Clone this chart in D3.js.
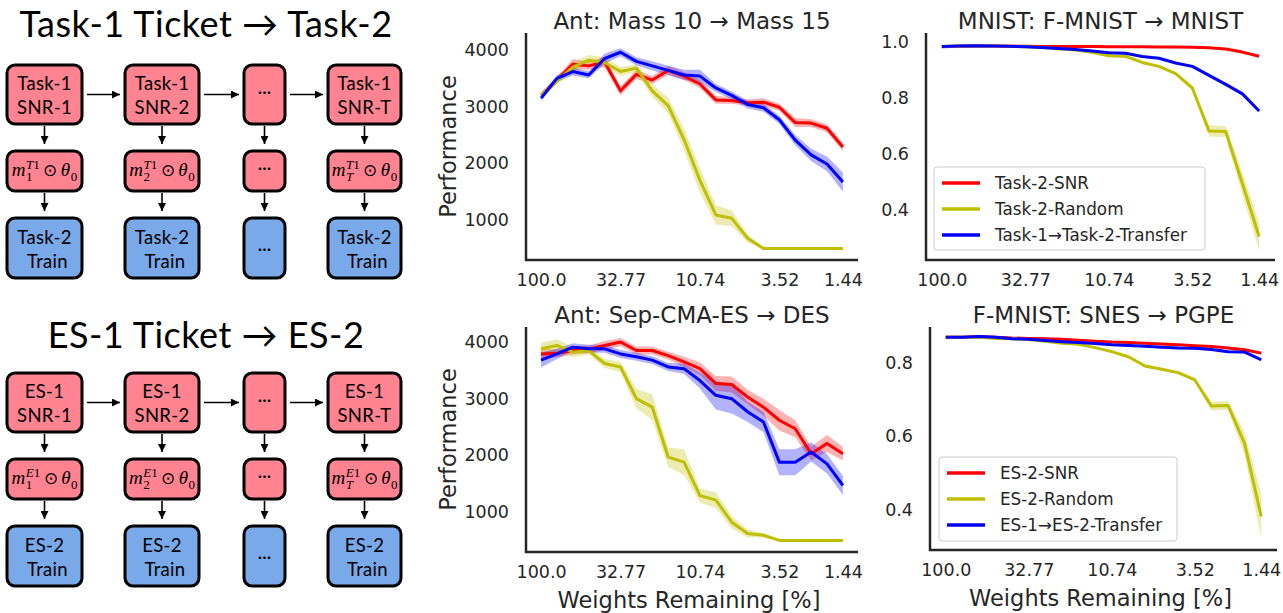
<!DOCTYPE html>
<html>
<head>
<meta charset="utf-8">
<script src="https://cdn.jsdelivr.net/npm/d3@7"></script>
<style>
  body { margin: 0; background: #fff; }
  svg { display: block; }
</style>
</head>
<body>
<svg id="fig" width="1283" height="613"></svg>
<script>
const d = document;

/* Datos: iteraciones de poda 0..19 */
const iters = d3.range(20);
const xTickIdx = [0, 5, 10, 15, 19];
const xTickLabels = ["100.0", "32.77", "10.74", "3.52", "1.44"];

/* Ant: Mass 10 -> Mass 15 */
const antMassSNR = [3200, 3470, 3750, 3720, 3790, 3280, 3570, 3470, 3640, 3540, 3400, 3120, 3110, 3070, 3080, 2990, 2720, 2710, 2620, 2290];
const antMassSNRErr = [50, 60, 90, 70, 90, 80, 80, 70, 80, 70, 70, 70, 60, 60, 70, 60, 80, 70, 70, 70];
const antMassRandom = [3200, 3450, 3700, 3820, 3780, 3620, 3680, 3280, 3020, 2420, 1700, 1090, 1030, 680, 500, 500, 500, 500, 500, 500];
const antMassRandomErr = [50, 60, 90, 90, 90, 80, 70, 110, 140, 190, 220, 170, 140, 70, 20, 0, 0, 0, 0, 0];
const antMassTransfer = [3150, 3500, 3620, 3560, 3850, 3960, 3800, 3720, 3640, 3560, 3540, 3330, 3200, 3040, 2980, 2770, 2410, 2150, 1990, 1670];
const antMassTransferErr = [50, 60, 70, 60, 90, 70, 70, 80, 80, 90, 110, 70, 70, 70, 70, 70, 90, 110, 130, 170];

/* MNIST: F-MNIST -> MNIST */
const mnistSNR = [0.982, 0.984, 0.985, 0.985, 0.984, 0.984, 0.983, 0.983, 0.983, 0.983, 0.982, 0.982, 0.982, 0.981, 0.981, 0.980, 0.978, 0.974, 0.963, 0.948];
const mnistSNRErr = [0.002, 0.002, 0.002, 0.002, 0.002, 0.002, 0.002, 0.002, 0.002, 0.002, 0.002, 0.002, 0.002, 0.002, 0.002, 0.002, 0.002, 0.002, 0.003, 0.003];
const mnistRandom = [0.983, 0.985, 0.986, 0.985, 0.984, 0.982, 0.979, 0.975, 0.970, 0.962, 0.950, 0.948, 0.926, 0.912, 0.886, 0.835, 0.682, 0.680, 0.494, 0.306];
const mnistRandomErr = [0.002, 0.002, 0.002, 0.002, 0.002, 0.002, 0.003, 0.003, 0.003, 0.004, 0.005, 0.005, 0.005, 0.005, 0.006, 0.008, 0.02, 0.02, 0.04, 0.05];
const mnistTransfer = [0.983, 0.985, 0.986, 0.985, 0.984, 0.982, 0.979, 0.976, 0.972, 0.967, 0.961, 0.959, 0.947, 0.941, 0.924, 0.912, 0.880, 0.848, 0.814, 0.753];
const mnistTransferErr = [0.002, 0.002, 0.002, 0.002, 0.002, 0.002, 0.002, 0.002, 0.002, 0.003, 0.003, 0.003, 0.003, 0.003, 0.004, 0.004, 0.004, 0.005, 0.005, 0.006];

/* Ant: Sep-CMA-ES -> DES */
const desSNR = [3790, 3800, 3850, 3870, 3940, 4000, 3850, 3850, 3760, 3650, 3530, 3270, 3250, 3030, 2850, 2620, 2470, 2030, 2210, 2030];
const desSNRErr = [90, 70, 70, 70, 80, 70, 70, 70, 70, 90, 110, 130, 140, 130, 150, 180, 150, 120, 150, 120];
const desRandom = [3880, 3940, 3820, 3850, 3620, 3560, 3000, 2850, 1970, 1880, 1290, 1210, 820, 620, 590, 500, 500, 500, 500, 500];
const desRandomErr = [110, 110, 90, 70, 80, 90, 170, 230, 170, 230, 120, 140, 110, 70, 40, 0, 0, 0, 0, 0];
const desTransfer = [3680, 3790, 3910, 3880, 3880, 3790, 3740, 3680, 3560, 3530, 3320, 3060, 3000, 2770, 2590, 1880, 1880, 2060, 1850, 1470];
const desTransferErr = [130, 90, 70, 70, 70, 70, 70, 70, 70, 90, 140, 250, 260, 180, 180, 230, 230, 170, 170, 170];

/* F-MNIST: SNES -> PGPE */
const pgpeSNR = [0.869, 0.869, 0.871, 0.869, 0.867, 0.866, 0.865, 0.864, 0.861, 0.858, 0.856, 0.855, 0.853, 0.851, 0.849, 0.846, 0.844, 0.840, 0.835, 0.826];
const pgpeSNRErr = [0.002, 0.002, 0.002, 0.002, 0.002, 0.002, 0.002, 0.002, 0.002, 0.002, 0.002, 0.002, 0.002, 0.002, 0.002, 0.002, 0.002, 0.003, 0.003, 0.004];
const pgpeRandom = [0.869, 0.869, 0.869, 0.866, 0.865, 0.863, 0.858, 0.853, 0.850, 0.841, 0.830, 0.816, 0.791, 0.782, 0.773, 0.753, 0.682, 0.684, 0.580, 0.382];
const pgpeRandomErr = [0.002, 0.002, 0.002, 0.002, 0.002, 0.002, 0.002, 0.002, 0.003, 0.003, 0.003, 0.003, 0.004, 0.004, 0.004, 0.005, 0.012, 0.012, 0.03, 0.06];
const pgpeTransfer = [0.869, 0.869, 0.871, 0.869, 0.865, 0.864, 0.860, 0.857, 0.855, 0.852, 0.849, 0.847, 0.845, 0.842, 0.840, 0.839, 0.836, 0.830, 0.829, 0.808];
const pgpeTransferErr = [0.002, 0.002, 0.002, 0.002, 0.002, 0.002, 0.002, 0.002, 0.002, 0.002, 0.002, 0.002, 0.002, 0.002, 0.003, 0.003, 0.003, 0.003, 0.004, 0.005];

/* Diagramas */
const taskLegend = ["Task-2-SNR", "Task-2-Random", "Task-1\u2192Task-2-Transfer"];
const esLegend = ["ES-2-SNR", "ES-2-Random", "ES-1\u2192ES-2-Transfer"];
const taskColumns = [
  { top: ["Task-1", "SNR-1"], sub: "1", bottom: ["Task-2", "Train"] },
  { top: ["Task-1", "SNR-2"], sub: "2", bottom: ["Task-2", "Train"] },
  { top: null, sub: null, bottom: null },
  { top: ["Task-1", "SNR-T"], sub: "T", bottom: ["Task-2", "Train"] },
];
const esColumns = [
  { top: ["ES-1", "SNR-1"], sub: "1", bottom: ["ES-2", "Train"] },
  { top: ["ES-1", "SNR-2"], sub: "2", bottom: ["ES-2", "Train"] },
  { top: null, sub: null, bottom: null },
  { top: ["ES-1", "SNR-T"], sub: "T", bottom: ["ES-2", "Train"] },
];

const RED = "#ff0000", OLIVE = "#bfbf00", BLUE = "#0000ff";
const TXT = "#262626";
const FONT = "DejaVu Sans";

const svg = d3.select("#fig");
svg.append("rect").attr("width", 1283).attr("height", 613).attr("fill", "#fff");

const defs = svg.append("defs");
defs.append("marker")
  .attr("id", "head")
  .attr("viewBox", "0 0 10 10")
  .attr("refX", 10).attr("refY", 5)
  .attr("markerWidth", 8).attr("markerHeight", 8)
  .attr("markerUnits", "userSpaceOnUse")
  .attr("orient", "auto")
  .append("path").attr("d", "M0,0L10,5L0,10Z").attr("fill", "#000");

/* ---------- paneles de graficas ---------- */
function panel(cfg) {
  const x = d3.scaleLinear().domain([-0.95, 19.95]).range([cfg.left, cfg.right]);
  const y = d3.scaleLinear().domain(cfg.ydom).range([cfg.bottom, cfg.top]);
  const g = svg.append("g");

  const area = d3.area()
    .x((v, i) => x(i))
    .y0((v) => y(v[0] - v[1]))
    .y1((v) => y(v[0] + v[1]));
  const line = d3.line().x((v, i) => x(i)).y((v) => y(v));

  cfg.series.forEach((s) => {
    g.append("path")
      .datum(s.values.map((v, i) => [v, s.err[i]]))
      .attr("d", area)
      .attr("fill", s.color)
      .attr("fill-opacity", 0.3);
  });
  cfg.series.forEach((s) => {
    g.append("path")
      .datum(s.values)
      .attr("d", line)
      .attr("fill", "none")
      .attr("stroke", s.color)
      .attr("stroke-width", 3)
      .attr("stroke-linejoin", "round");
  });

  // ejes (solo lineas, sin marcas)
  const xAxis = g.append("g").attr("transform", `translate(0,${cfg.bottom})`)
    .call(d3.axisBottom(x).tickValues(xTickIdx).tickSize(0).tickPadding(14)
      .tickFormat((v, i) => xTickLabels[i]));
  const yAxis = g.append("g").attr("transform", `translate(${cfg.left},0)`)
    .call(d3.axisLeft(y).tickValues(cfg.yticks).tickSize(0).tickPadding(17)
      .tickFormat(cfg.yfmt));
  [xAxis, yAxis].forEach((a) => {
    a.select(".domain").remove();
    a.selectAll("text").attr("font-family", FONT).attr("font-size", 17.5).attr("fill", TXT);
  });
  g.append("path")
    .attr("d", `M${cfg.left},${cfg.top}V${cfg.bottom}H${cfg.right}`)
    .attr("fill", "none").attr("stroke", TXT).attr("stroke-width", 2.5);

  g.append("text")
    .attr("x", (cfg.left + cfg.right) / 2).attr("y", cfg.top - 4)
    .attr("text-anchor", "middle")
    .attr("font-family", FONT).attr("font-size", 23).attr("fill", TXT)
    .text(cfg.title);

  if (cfg.ylabel) {
    g.append("text")
      .attr("transform", `translate(${cfg.left - 70},${(cfg.top + cfg.bottom) / 2}) rotate(-90)`)
      .attr("text-anchor", "middle")
      .attr("font-family", FONT).attr("font-size", 22.5).attr("fill", TXT)
      .text(cfg.ylabel);
  }
  if (cfg.xlabel) {
    g.append("text")
      .attr("x", (cfg.left + cfg.right) / 2 - 3).attr("y", cfg.bottom + 56)
      .attr("text-anchor", "middle")
      .attr("font-family", FONT).attr("font-size", 22.5).attr("fill", TXT)
      .text(cfg.xlabel);
  }
  if (cfg.legend) {
    const L = cfg.legend;
    const lg = g.append("g");
    lg.append("rect")
      .attr("x", L.x).attr("y", L.y).attr("width", L.w).attr("height", L.h)
      .attr("rx", 3).attr("fill", "#fff").attr("stroke", "#cccccc").attr("stroke-width", 1);
    cfg.series.forEach((s, i) => {
      const yy = L.y + 16 + i * 26;
      lg.append("line")
        .attr("x1", L.x + 8).attr("x2", L.x + 46).attr("y1", yy).attr("y2", yy)
        .attr("stroke", s.color).attr("stroke-width", 3.5);
      lg.append("text")
        .attr("x", L.x + 61).attr("y", yy).attr("dy", "0.36em")
        .attr("font-family", FONT).attr("font-size", 16.8).attr("fill", TXT)
        .text(L.labels[i]);
    });
  }
}

const fmt1 = d3.format(".1f");

panel({
  left: 526, right: 858, top: 33, bottom: 260, ydom: [295, 4300],
  yticks: [1000, 2000, 3000, 4000], yfmt: (v) => v,
  title: "Ant: Mass 10 \u2192 Mass 15", ylabel: "Performance",
  series: [
    { values: antMassSNR, err: antMassSNRErr, color: RED },
    { values: antMassRandom, err: antMassRandomErr, color: OLIVE },
    { values: antMassTransfer, err: antMassTransferErr, color: BLUE },
  ],
});

panel({
  left: 926, right: 1275, top: 33, bottom: 260, ydom: [0.222, 1.031],
  yticks: [0.4, 0.6, 0.8, 1.0], yfmt: fmt1,
  title: "MNIST: F-MNIST \u2192 MNIST",
  legend: { x: 934, y: 167, w: 271, h: 83, labels: taskLegend },
  series: [
    { values: mnistSNR, err: mnistSNRErr, color: RED },
    { values: mnistRandom, err: mnistRandomErr, color: OLIVE },
    { values: mnistTransfer, err: mnistTransferErr, color: BLUE },
  ],
});

panel({
  left: 526, right: 858, top: 327, bottom: 552, ydom: [295, 4265],
  yticks: [1000, 2000, 3000, 4000], yfmt: (v) => v,
  title: "Ant: Sep-CMA-ES \u2192 DES", ylabel: "Performance", xlabel: "Weights Remaining [%]",
  series: [
    { values: desSNR, err: desSNRErr, color: RED },
    { values: desRandom, err: desRandomErr, color: OLIVE },
    { values: desTransfer, err: desTransferErr, color: BLUE },
  ],
});

panel({
  left: 930, right: 1277, top: 327, bottom: 550, ydom: [0.291, 0.897],
  yticks: [0.4, 0.6, 0.8], yfmt: fmt1,
  title: "F-MNIST: SNES \u2192 PGPE", xlabel: "Weights Remaining [%]",
  legend: { x: 939, y: 457, w: 238, h: 84, labels: esLegend },
  series: [
    { values: pgpeSNR, err: pgpeSNRErr, color: RED },
    { values: pgpeRandom, err: pgpeRandomErr, color: OLIVE },
    { values: pgpeTransfer, err: pgpeTransferErr, color: BLUE },
  ],
});

/* ---------- diagramas de la izquierda ---------- */
const PINK = "#ff8391", LBLUE = "#79a9e8";
const DFONT = "Lato";
const colX = [7, 125, 244, 328];
const colW = [75, 74, 41, 73];
const rowOff = [0, 86, 153];
const rowH = [59, 40, 60];

function mathLabel(g, cx, cy, sub, supLetter) {
  const t = g.append("g").attr("font-family", "Liberation Serif").attr("fill", "#000");
  const m = t.append("text").attr("font-size", 19).attr("font-style", "italic").text("m");
  let x = m.node().getComputedTextLength() + 0.5;
  const sup = t.append("text").attr("x", x).attr("y", -7.5).attr("font-size", 13);
  sup.append("tspan").attr("font-style", "italic").text(supLetter);
  sup.append("tspan").text("1");
  const sb = t.append("text").attr("x", x).attr("y", 5).attr("font-size", 13)
    .attr("font-style", sub === "T" ? "italic" : "normal").text(sub);
  x += Math.max(sup.node().getComputedTextLength(), sb.node().getComputedTextLength()) + 3.5;
  const od = t.append("text").attr("x", x).attr("y", 0).attr("font-size", 17).text("\u2299");
  x += od.node().getComputedTextLength() + 3.5;
  const th = t.append("text").attr("x", x).attr("font-size", 19).attr("font-style", "italic").text("\u03b8");
  x += th.node().getComputedTextLength() + 0.5;
  const z = t.append("text").attr("x", x).attr("y", 5).attr("font-size", 13).text("0");
  x += z.node().getComputedTextLength();
  t.attr("transform", `translate(${cx - x / 2},${cy + 5})`);
}

function diagram(y0, titleY, title, columns, supLetter) {
  const g = svg.append("g");
  g.append("text")
    .attr("x", 206).attr("y", titleY)
    .attr("text-anchor", "middle")
    .attr("font-family", DFONT).attr("font-size", 36).attr("letter-spacing", 0.5).attr("fill", "#000")
    .text(title);

  columns.forEach((c, ci) => {
    const x = colX[ci], w = colW[ci], cx = x + w / 2;
    rowOff.forEach((off, ri) => {
      g.append("rect")
        .attr("x", x).attr("y", y0 + off).attr("width", w).attr("height", rowH[ri])
        .attr("rx", 8).attr("fill", ri === 2 ? LBLUE : PINK)
        .attr("stroke", "#000").attr("stroke-width", 3);
    });
    const cy = rowOff.map((off, ri) => y0 + off + rowH[ri] / 2);
    // texto de las cajas
    if (c.top) {
      [c.top, c.bottom].forEach((lines, k) => {
        const ry = k === 0 ? cy[0] : cy[2];
        lines.forEach((s, li) => {
          g.append("text")
            .attr("x", cx + (k === 1 && li === 1 ? 3 : 0)).attr("y", ry + (li === 0 ? -11 : 13))
            .attr("dy", "0.36em")
            .attr("text-anchor", "middle")
            .attr("font-family", DFONT).attr("font-size", 18.5).attr("letter-spacing", 0.3).attr("fill", "#000")
            .text(s);
        });
      });
      mathLabel(g, cx, cy[1], c.sub, supLetter);
    } else {
      [cy[0] + 3, cy[1] + 3, cy[2] + 7].forEach((yy) => {
        g.append("text")
          .attr("x", cx).attr("y", yy)
          .attr("text-anchor", "middle")
          .attr("font-family", DFONT).attr("font-size", 17).attr("fill", "#000")
          .text("\u00b7\u00b7\u00b7");
      });
    }
    // flechas verticales
    [[0, 1], [1, 2]].forEach(([a, b]) => {
      g.append("line")
        .attr("x1", cx).attr("x2", cx)
        .attr("y1", y0 + rowOff[a] + rowH[a] + 2)
        .attr("y2", y0 + rowOff[b] - 7)
        .attr("stroke", "#000").attr("stroke-width", 1.6)
        .attr("marker-end", "url(#head)");
    });
    // flechas horizontales
    if (ci < columns.length - 1) {
      g.append("line")
        .attr("x1", x + w + 5).attr("x2", colX[ci + 1] - 5)
        .attr("y1", cy[0]).attr("y2", cy[0])
        .attr("stroke", "#000").attr("stroke-width", 1.6)
        .attr("marker-end", "url(#head)");
    }
  });
}

diagram(65, 37, "Task-1 Ticket \u2192 Task-2", taskColumns, "T");
diagram(373, 348, "ES-1 Ticket \u2192 ES-2", esColumns, "E");
</script>
</body>
</html>
